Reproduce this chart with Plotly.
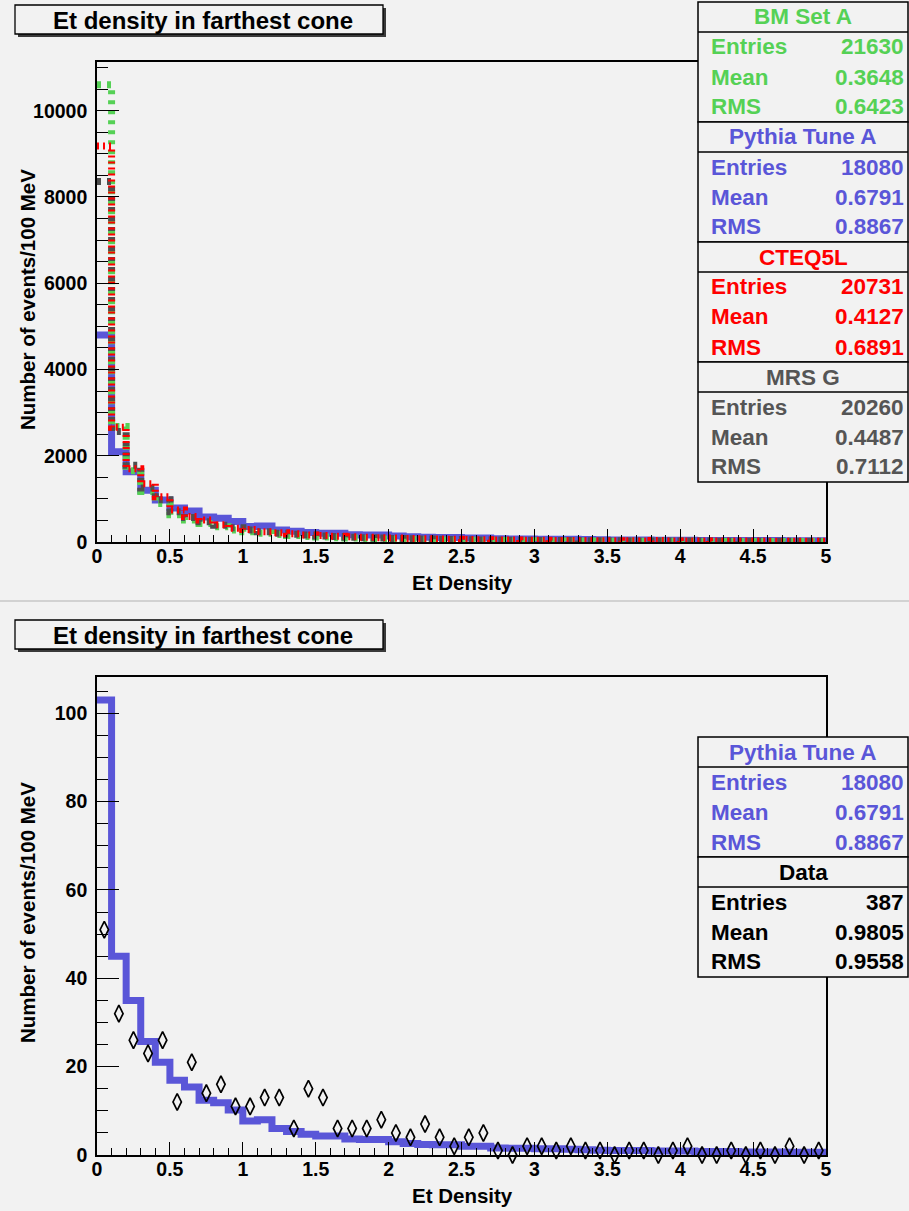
import plotly.graph_objects as go

W, H = 909, 1211
BG = "#f2f2f2"
FONT = "Liberation Sans"

# ---------------- data ----------------
bin_edges = [round(0.1 * i, 1) for i in range(51)]
bin_centers = [round(0.1 * i + 0.05, 2) for i in range(50)]

# Top panel (events / 100 MeV)
pythia_top = [4800, 2090, 1630, 1200, 975, 790, 720, 580, 550, 475,
              360, 372, 280, 248, 220, 200, 200, 168, 163, 163,
              140, 121, 112, 107, 107, 93, 93, 75, 70, 70,
              65, 65, 61, 56, 51, 47, 47, 47, 42, 42,
              42, 37, 37, 37, 33, 33, 33, 28, 28, 28]
bmseta_top = [10600, 2680, 1650, 1170, 890, 630, 510, 430, 355, 280,
              240, 200, 175, 150, 130, 115, 100, 90, 80, 72,
              65, 58, 52, 47, 43, 39, 36, 33, 30, 28,
              26, 24, 22, 21, 20, 19, 18, 17, 16, 15,
              15, 14, 14, 13, 13, 12, 12, 11, 11, 10]
mrsg_top = [8360, 2560, 1780, 1250, 980, 700, 570, 470, 390, 330,
            280, 240, 205, 180, 160, 140, 125, 112, 100, 90,
            82, 74, 67, 61, 56, 52, 48, 44, 41, 38,
            36, 34, 32, 30, 28, 27, 26, 25, 24, 23,
            22, 21, 20, 20, 19, 18, 18, 17, 17, 16]
cteq_top = [9180, 2660, 1700, 1350, 1050, 740, 590, 510, 400, 320,
            290, 240, 215, 190, 165, 150, 135, 120, 110, 100,
            90, 82, 75, 68, 62, 56, 52, 48, 45, 42,
            39, 36, 34, 32, 30, 28, 27, 26, 35, 24,
            23, 23, 22, 22, 21, 21, 20, 20, 19, 19]

# Bottom panel
pythia_bottom = [103, 45, 35, 25.7, 21, 16.9, 15.4, 12.4, 11.8, 10.2,
                 7.7, 8.0, 6.0, 5.3, 4.7, 4.3, 4.3, 3.6, 3.5, 3.5,
                 3.0, 2.6, 2.4, 2.3, 2.3, 2.0, 2.0, 1.6, 1.5, 1.5,
                 1.4, 1.4, 1.3, 1.2, 1.1, 1.0, 1.0, 1.0, 0.9, 0.9,
                 0.9, 0.8, 0.8, 0.8, 0.7, 0.7, 0.7, 0.6, 0.6, 0.6]
data_counts = [51, 32, 26, 23, 26, 12, 21, 14, 16, 11,
               11, 13, 13, 6, 15, 13, 6, 6, 6, 8,
               5, 4, 7, 4, 2, 4, 5, 1, 0, 2,
               2, 1, 2, 1, 1, 0, 1, 1, 0, 1,
               2, 0, 0, 1, 0, 1, 0, 2, 0, 1]

stats_top = [
    ("BM Set A", "#55d155", ["21630", "0.3648", "0.6423"]),
    ("Pythia Tune A", "#5a56d8", ["18080", "0.6791", "0.8867"]),
    ("CTEQ5L", "#ff0000", ["20731", "0.4127", "0.6891"]),
    ("MRS G", "#555555", ["20260", "0.4487", "0.7112"]),
]
stats_bottom = [
    ("Pythia Tune A", "#5a56d8", ["18080", "0.6791", "0.8867"]),
    ("Data", "#000000", ["387", "0.9805", "0.9558"]),
]
row_labels = ["Entries", "Mean", "RMS"]

BLUE = "#5a56d8"
GREEN = "#55d155"
RED = "#ff0000"
GRAY = "#4f4f4f"


def step(vals):
    return list(vals) + [vals[-1]]


def px(p):
    return p / W


def py(p):
    return 1 - p / H


fig = go.Figure()

# top panel traces
fig.add_trace(go.Scatter(x=bin_edges, y=step(pythia_top), mode="lines", line_shape="hv",
                         line=dict(color=BLUE, width=7), xaxis="x", yaxis="y", showlegend=False))
fig.add_trace(go.Scatter(x=bin_edges, y=step(bmseta_top), mode="lines", line_shape="hv",
                         line=dict(color=GREEN, width=7, dash="4px,6px"), xaxis="x", yaxis="y", showlegend=False))
fig.add_trace(go.Scatter(x=bin_edges, y=step(mrsg_top), mode="lines", line_shape="hv",
                         line=dict(color=GRAY, width=7, dash="4px,6px"), xaxis="x", yaxis="y", showlegend=False))
fig.add_trace(go.Scatter(x=bin_edges, y=step(cteq_top), mode="lines", line_shape="hv",
                         line=dict(color=RED, width=7, dash="2px,4px"), xaxis="x", yaxis="y", showlegend=False))

# bottom panel traces
fig.add_trace(go.Scatter(x=bin_edges, y=step(pythia_bottom), mode="lines", line_shape="hv",
                         line=dict(color=BLUE, width=7), xaxis="x2", yaxis="y2", showlegend=False))
fig.add_trace(go.Scatter(x=bin_centers, y=data_counts, mode="markers", cliponaxis=False,
                         marker=dict(symbol="diamond-tall-open", size=12, color="black",
                                     line=dict(color="black", width=1.7)),
                         xaxis="x2", yaxis="y2", showlegend=False))

tickfont = dict(family=FONT, size=19.5, color="black", weight="bold")
common = dict(showline=True, linecolor="black", linewidth=1.6, mirror=True, ticks="inside",
              tickcolor="black", tickwidth=1.3, showgrid=False, zeroline=False, tickfont=tickfont,
              automargin=False)
xcommon = dict(common, range=[0, 5], tick0=0, dtick=0.5, ticklen=13, ticklabelstandoff=-4,
               minor=dict(dtick=0.1, ticklen=7, ticks="inside", tickcolor="black", tickwidth=1.1, showgrid=False))

fig.update_layout(
    width=W, height=H, margin=dict(l=0, r=0, t=0, b=0, pad=0, autoexpand=False),
    paper_bgcolor=BG, plot_bgcolor=BG,
    xaxis=dict(xcommon, domain=[px(97), px(826)], anchor="y"),
    yaxis=dict(common, domain=[py(542), py(62)], anchor="x", range=[0, 11130], tick0=0, dtick=2000,
               ticklen=22, tickformat="d", ticklabelstandoff=4,
               minor=dict(dtick=500, ticklen=11, ticks="inside", tickcolor="black", tickwidth=1.1, showgrid=False)),
    xaxis2=dict(xcommon, domain=[px(97), px(826)], anchor="y2"),
    yaxis2=dict(common, domain=[py(1155), py(677)], anchor="x2", range=[0, 108.2], tick0=0, dtick=20,
                ticklen=22, tickformat="d", ticklabelstandoff=4,
                minor=dict(dtick=5, ticklen=11, ticks="inside", tickcolor="black", tickwidth=1.1, showgrid=False)),
)

shapes = []
annotations = []

# pad divider
shapes.append(dict(type="line", xref="paper", yref="paper", x0=0, x1=1, y0=py(601), y1=py(601),
                   line=dict(color="#d2d2d2", width=2), layer="above"))

TF = dict(family=FONT, size=24, color="black", weight="bold")


def title_box(top):
    shapes.append(dict(type="rect", xref="paper", yref="paper", x0=px(18), x1=px(386),
                       y0=py(top + 32), y1=py(top + 3), fillcolor="#3a3a3a", line=dict(width=0), layer="above"))
    shapes.append(dict(type="rect", xref="paper", yref="paper", x0=px(15), x1=px(383),
                       y0=py(top + 29), y1=py(top), fillcolor=BG, line=dict(color="black", width=1.3), layer="above"))
    annotations.append(dict(xref="paper", yref="paper", x=px(203), y=py(top + 15), text="Et density in farthest cone",
                            showarrow=False, xanchor="center", yanchor="middle", font=TF))


title_box(5)
title_box(620)


def stat_box(top, header, color, vals):
    x0, x1 = 698, 908
    shapes.append(dict(type="rect", xref="paper", yref="paper", x0=px(x0), x1=px(x1),
                       y0=py(top + 120), y1=py(top), fillcolor=BG, line=dict(color="black", width=1.5), layer="above"))
    shapes.append(dict(type="line", xref="paper", yref="paper", x0=px(x0), x1=px(x1),
                       y0=py(top + 30), y1=py(top + 30), line=dict(color="black", width=1.5), layer="above"))
    f = dict(family=FONT, size=22.5, color=color, weight="bold")
    annotations.append(dict(xref="paper", yref="paper", x=px(803), y=py(top + 15), text=header,
                            showarrow=False, xanchor="center", yanchor="middle", font=f))
    for i, (lab, v) in enumerate(zip(row_labels, vals)):
        yy = py(top + 45 + 30 * i)
        annotations.append(dict(xref="paper", yref="paper", x=px(709), y=yy, text=lab,
                                showarrow=False, xanchor="left", yanchor="middle", font=f))
        annotations.append(dict(xref="paper", yref="paper", x=px(906), y=yy, text=v,
                                showarrow=False, xanchor="right", yanchor="middle", font=f))


for i, (h, c, v) in enumerate(stats_top):
    stat_box(2 + 120 * i, h, c, v)
for i, (h, c, v) in enumerate(stats_bottom):
    stat_box(737 + 120 * i, h, c, v)

AF = dict(family=FONT, size=20.5, color="black", weight="bold")
for yc in (582, 1195):
    annotations.append(dict(xref="paper", yref="paper", x=px(462), y=py(yc), text="Et Density",
                            showarrow=False, xanchor="center", yanchor="middle", font=AF))
for yc in (300, 913):
    annotations.append(dict(xref="paper", yref="paper", x=px(27), y=py(yc), text="Number of events/100 MeV",
                            showarrow=False, xanchor="center", yanchor="middle", textangle=-90, font=AF))

fig.update_layout(shapes=shapes, annotations=annotations)
fig.write_html("out.html")
